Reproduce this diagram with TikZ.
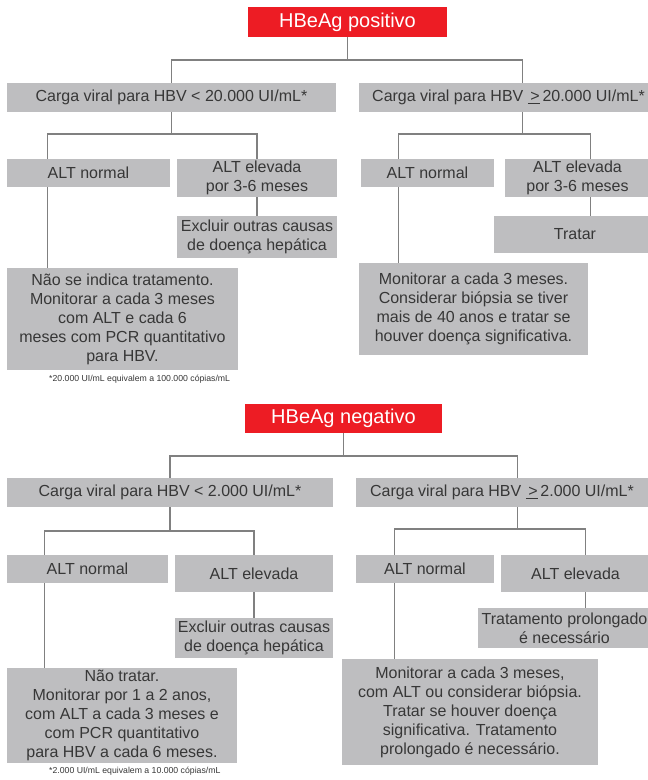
\documentclass[tikz,border=0pt]{standalone}
\usepackage{fontspec}
\setmainfont{Liberation Sans}
\definecolor{boxgray}{RGB}{190,190,192}
\definecolor{txtgray}{RGB}{55,55,55}
\definecolor{linegray}{RGB}{128,128,128}
\definecolor{hred}{RGB}{237,28,36}
\begin{document}
\begin{tikzpicture}[x=1pt,y=-1pt,
  box/.style={fill=boxgray, inner sep=0pt, text=txtgray, align=center,
    font=\fontsize{16}{19}\selectfont},
  redbox/.style={fill=hred, inner sep=0pt, text=white, align=center,
    font=\fontsize{20}{24}\selectfont},
  conn/.style={draw=linegray, line width=1.2pt},
  note/.style={inner sep=0pt, anchor=west, text=txtgray, font=\fontsize{8.7}{10}\selectfont}]
\useasboundingbox (0,0) rectangle (648,780);
\clip (0,0) rectangle (648,780);
\fill[white] (0,0) rectangle (648,780);

% ---------- HBeAg positivo ----------
\node[redbox, minimum width=199pt, minimum height=30pt] (r1) at (347.5,22) {HBeAg positivo};
\node[box, minimum width=329pt, minimum height=29pt] (a1) at (171.5,97.5) {Carga viral para HBV < 20.000 UI/mL*};
\node[box, minimum width=299pt, minimum height=29pt] (a2) at (508.5,97.5) {Carga viral para HBV \underline{\,>}\,20.000 UI/mL*};
\node[box, minimum width=163pt, minimum height=28pt] (b1) at (88.5,173) {ALT normal};
\node[box, minimum width=160pt, minimum height=38pt] (b2) at (257,178) {ALT elevada\\por 3-6 meses};
\node[box, minimum width=160pt, minimum height=42pt] (c1) at (257,237) {Excluir outras causas\\de doença hepática};
\node[box, minimum width=231pt, minimum height=102pt] (d1) at (122.5,319) {Não se indica tratamento.\\Monitorar a cada 3 meses\\com ALT e cada 6\\meses com PCR quantitativo\\para HBV.};
\node[box, minimum width=133pt, minimum height=28pt] (b3) at (427.5,173) {ALT normal};
\node[box, minimum width=145pt, minimum height=38pt] (b4) at (577.5,178) {ALT elevada\\por 3-6 meses};
\node[box, minimum width=162pt, minimum height=37pt] (c2) at (575,234.5) {Tratar};
\node[box, minimum width=229pt, minimum height=92pt] (d2) at (473.5,309) {Monitorar a cada 3 meses.\\Considerar biópsia se tiver\\mais de 40 anos e tratar se\\houver doença significativa.};
\node[note] (n1) at (49,379) {*20.000 UI/mL equivalem a 100.000 cópias/mL};

\coordinate (bar1) at (0,60);
\coordinate (bar2) at (0,134);
\coordinate (a2t) at ([xshift=164pt]a2.north west);
\coordinate (a2b) at ([xshift=164pt]a2.south west);
\coordinate (b1t) at ([xshift=41pt]b1.north west);
\coordinate (b1b) at ([xshift=41pt]b1.south west);
\coordinate (b3t) at ([xshift=38pt]b3.north west);
\coordinate (b3b) at ([xshift=38pt]b3.south west);
\coordinate (b4t) at ([xshift=86pt]b4.north west);
\coordinate (b4b) at ([xshift=86pt]b4.south west);

\draw[conn] (r1.south) -- (r1.south |- bar1);
\draw[conn] (a1.north) -- (a1.north |- bar1) -- (a2t |- bar1) -- (a2t);
\draw[conn] (a1.south) -- (a1.south |- bar2);
\draw[conn] (b1t) -- (b1t |- bar2) -- (b2.north |- bar2) -- (b2.north);
\draw[conn] (b2.south) -- (c1.north);
\draw[conn] (b1b) -- (b1b |- d1.north);
\draw[conn] (a2b) -- (a2b |- bar2);
\draw[conn] (b3t) -- (b3t |- bar2) -- (b4t |- bar2) -- (b4t);
\draw[conn] (b4b) -- (b4b |- c2.north);
\draw[conn] (b3b) -- (b3b |- d2.north);

% ---------- HBeAg negativo ----------
\node[redbox, minimum width=197pt, minimum height=29pt] (r2) at (343.5,418.5) {HBeAg negativo};
\node[box, minimum width=326pt, minimum height=29pt] (e1) at (170,492.5) {Carga viral para HBV < 2.000 UI/mL*};
\node[box, minimum width=292pt, minimum height=29pt] (e2) at (502,492.5) {Carga viral para HBV \underline{\,>}\,2.000 UI/mL*};
\node[box, minimum width=161pt, minimum height=28pt] (f1) at (87.5,569) {ALT normal};
\node[box, minimum width=158pt, minimum height=37pt] (f2) at (254,573.5) {ALT elevada};
\node[box, minimum width=158pt, minimum height=40pt] (g1) at (254,638) {Excluir outras causas\\de doença hepática};
\node[box, minimum width=230pt, minimum height=95pt] (h1) at (122,715.5) {Não tratar.\\Monitorar por 1 a 2 anos,\\com ALT a cada 3 meses e\\com PCR quantitativo\\para HBV a cada 6 meses.};
\node[box, minimum width=138pt, minimum height=28pt] (f3) at (425,569) {ALT normal};
\node[box, minimum width=149pt, minimum height=37pt] (f4) at (575.5,573.5) {ALT elevada};
\node[box, minimum width=173pt, minimum height=40pt] (g2) at (564.5,628) {Tratamento prolongado\\é necessário};
\node[box, minimum width=256pt, minimum height=106pt] (h2) at (470,712) {Monitorar a cada 3 meses,\\com ALT ou considerar biópsia.\\Tratar se houver doença\\significativa. Tratamento\\prolongado é necessário.};
\node[note] (n2) at (49,771) {*2.000 UI/mL equivalem a 10.000 cópias/mL};

\coordinate (bar3) at (0,456);
\coordinate (bar4) at (0,531);
\coordinate (bar5) at (0,529);
\coordinate (e2t) at ([xshift=162pt]e2.north west);
\coordinate (e2b) at ([xshift=162pt]e2.south west);
\coordinate (f1t) at ([xshift=38pt]f1.north west);
\coordinate (f1b) at ([xshift=38pt]f1.south west);
\coordinate (f3t) at ([xshift=39pt]f3.north west);
\coordinate (f3b) at ([xshift=39pt]f3.south west);
\coordinate (f4t) at ([xshift=85pt]f4.north west);
\coordinate (f4b) at ([xshift=85pt]f4.south west);

\draw[conn] (r2.south) -- (r2.south |- bar3);
\draw[conn] (e1.north) -- (e1.north |- bar3) -- (e2t |- bar3) -- (e2t);
\draw[conn] (e1.south) -- (e1.south |- bar4);
\draw[conn] (f1t) -- (f1t |- bar4) -- (f2.north |- bar4) -- (f2.north);
\draw[conn] (f2.south) -- (g1.north);
\draw[conn] (f1b) -- (f1b |- h1.north);
\draw[conn] (e2b) -- (e2b |- bar5);
\draw[conn] (f3t) -- (f3t |- bar5) -- (f4t |- bar5) -- (f4t);
\draw[conn] (f4b) -- (f4b |- g2.north);
\draw[conn] (f3b) -- (f3b |- h2.north);
\end{tikzpicture}
\end{document}
